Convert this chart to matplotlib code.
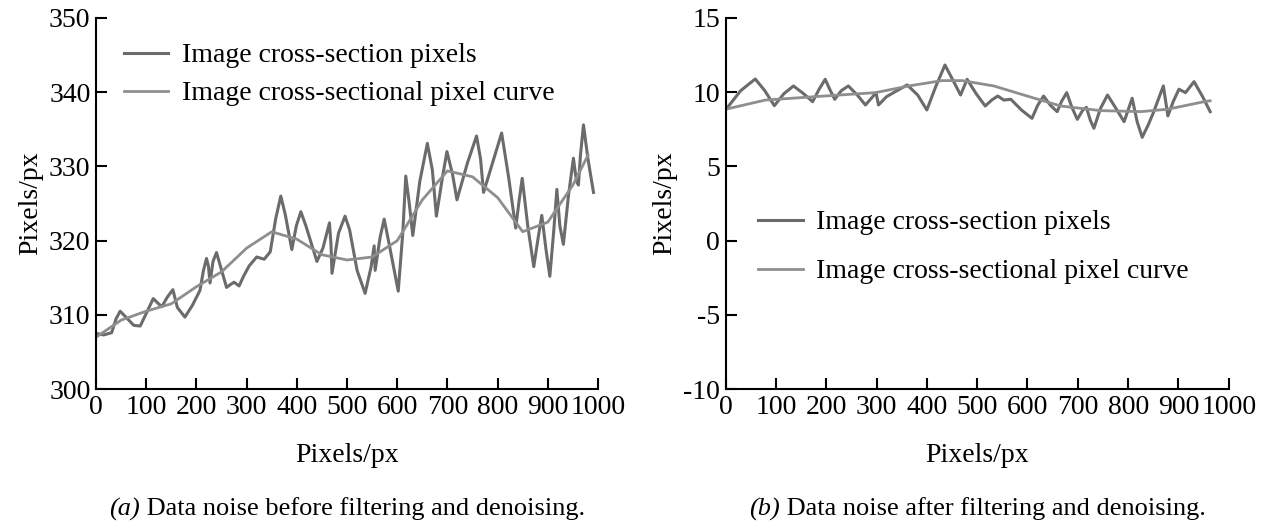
import matplotlib
matplotlib.use("Agg")
import matplotlib.pyplot as plt

plt.rcParams['font.family'] = ['Liberation Serif', 'DejaVu Serif']
plt.rcParams['font.size'] = 20
plt.rcParams['axes.unicode_minus'] = False

# (a) before filtering: noisy pixels and fitted curve
raw_a_x = [1, 15, 31, 40, 48, 58, 75, 88, 100, 114, 123, 131, 142, 153, 162, 177, 192,
           207, 214, 220, 224, 227, 233, 240, 248, 260, 268, 275, 285, 293, 305, 320,
           335, 347, 358, 368, 377, 390, 399, 408, 418, 440, 452, 465, 468, 470, 483,
           496, 505, 520, 536, 548, 554, 556, 566, 574, 584, 602, 611, 617, 624, 631,
           645, 660, 670, 678, 690, 699, 710, 719, 740, 758, 766, 772, 790, 808, 822,
           836, 843, 849, 860, 872, 881, 888, 896, 904, 912, 918, 924, 931, 941, 951,
           957, 961, 965, 971, 980, 991]
raw_a_y = [307.5, 307.3, 307.6, 309.5, 310.5, 309.8, 308.6, 308.5, 310.2, 312.2, 311.6,
           311.1, 312.4, 313.4, 311.0, 309.7, 311.3, 313.3, 316.0, 317.6, 316.5, 314.3,
           317.2, 318.4, 316.5, 313.7, 314.1, 314.4, 313.9, 315.1, 316.6, 317.8, 317.5,
           318.5, 323.0, 326.0, 323.5, 318.8, 322.0, 323.9, 322.0, 317.2, 319.0, 322.4,
           319.5, 315.6, 321.0, 323.3, 321.5, 316.0, 312.9, 316.5, 319.3, 316.0, 320.5,
           322.9, 319.5, 313.2, 321.0, 328.7, 325.0, 320.7, 328.0, 333.1, 329.5, 323.3,
           328.5, 332.0, 329.0, 325.5, 330.5, 334.1, 331.0, 326.5, 330.5, 334.5, 328.5,
           321.7, 325.5, 328.4, 322.0, 316.5, 320.5, 323.4, 319.0, 315.2, 321.5, 326.9,
           322.0, 319.5, 326.0, 331.1, 328.0, 327.5, 331.5, 335.6, 331.0, 326.5]
fit_a_x = [0, 50, 100, 150, 200, 250, 300, 350, 400, 450, 500, 550, 600, 650, 700,
           750, 800, 850, 900, 950, 980]
fit_a_y = [307.0, 309.3, 310.5, 311.5, 313.8, 315.8, 319.0, 321.2, 320.2, 318.1, 317.4,
           317.8, 320.0, 325.5, 329.4, 328.6, 325.8, 321.2, 322.5, 327.5, 331.5]

# (b) after filtering
raw_b_x = [1, 30, 59, 78, 97, 116, 135, 155, 173, 186, 198, 207, 217, 230, 244, 262,
           278, 290, 299, 304, 320, 337, 361, 382, 400, 418, 436, 452, 467, 480, 498,
           516, 530, 541, 553, 567, 588, 609, 620, 632, 646, 659, 668, 678, 688, 699,
           710, 717, 725, 732, 745, 759, 776, 792, 800, 808, 818, 828, 840, 851, 862,
           870, 879, 890, 901, 914, 931, 948, 963]
raw_b_y = [8.85, 10.1, 10.89, 10.1, 9.09, 9.9, 10.42, 9.9, 9.36, 10.2, 10.87, 10.2,
           9.52, 10.1, 10.42, 9.8, 9.14, 9.6, 9.97, 9.14, 9.7, 10.03, 10.49, 9.8, 8.80,
           10.4, 11.83, 10.8, 9.81, 10.87, 9.9, 9.07, 9.5, 9.74, 9.47, 9.52, 8.8, 8.24,
           9.1, 9.74, 9.1, 8.69, 9.4, 9.97, 9.0, 8.17, 8.8, 8.98, 8.1, 7.57, 8.9, 9.81,
           8.9, 8.01, 8.8, 9.59, 8.0, 6.96, 7.8, 8.69, 9.7, 10.42, 8.40, 9.4, 10.20,
           9.97, 10.71, 9.7, 8.69]
fit_b_x = [0, 79, 178, 298, 364, 430, 470, 533, 626, 666, 745, 825, 878, 951, 963]
fit_b_y = [8.85, 9.47, 9.70, 9.97, 10.42, 10.78, 10.78, 10.42, 9.47, 9.07, 8.76, 8.69,
           8.85, 9.36, 9.42]

x_ticks = list(range(0, 1001, 100))
raw_color = '#6b6b6b'
fit_color = '#8e8e8e'

fig = plt.figure(figsize=(12.74, 5.28), dpi=100)
ax1 = fig.add_axes([0.0754, 0.263, 0.394, 0.703])
ax2 = fig.add_axes([0.5695, 0.263, 0.395, 0.703])

panels = [
    (ax1, raw_a_x, raw_a_y, fit_a_x, fit_a_y, (300, 350), [300, 310, 320, 330, 340, 350],
     (0.005, 1.0), 0.45),
    (ax2, raw_b_x, raw_b_y, fit_b_x, fit_b_y, (-10, 15), [-10, -5, 0, 5, 10, 15],
     (0.015, 0.55), 0.85),
]

for ax, rx, ry, fx, fy, ylim, yticks, leg_pos, spacing in panels:
    ax.plot(rx, ry, color=raw_color, lw=2.2, solid_joinstyle='round',
            label='Image cross-section pixels')
    ax.plot(fx, fy, color=fit_color, lw=2.0, solid_joinstyle='round',
            label='Image cross-sectional pixel curve')
    ax.set_xlim(0, 1000)
    ax.set_ylim(*ylim)
    ax.set_xticks(x_ticks)
    ax.set_yticks(yticks)
    ax.spines['top'].set_visible(False)
    ax.spines['right'].set_visible(False)
    ax.spines['left'].set_linewidth(1.5)
    ax.spines['bottom'].set_linewidth(1.5)
    ax.tick_params(direction='in', length=8, width=1.5, pad=4)
    ax.set_xlabel('Pixels/px', labelpad=17)
    ax.set_ylabel('Pixels/px', labelpad=4)
    ax.legend(loc='upper left', bbox_to_anchor=leg_pos, frameon=False,
              handlelength=1.6, handletextpad=0.5, labelspacing=spacing)

# captions: italic panel letter followed by plain text, centred under each axes
captions = [(ax1, '(a)', ' Data noise before filtering and denoising.'),
            (ax2, '(b)', ' Data noise after filtering and denoising.')]
cap_y = 0.036
texts = []
for ax, tag, body in captions:
    t1 = fig.text(0, cap_y, tag, style='italic', va='center', ha='left', fontsize=19)
    t2 = fig.text(0, cap_y, body, va='center', ha='left', fontsize=19)
    texts.append((ax, t1, t2))

fig.canvas.draw()
r = fig.canvas.get_renderer()
W = fig.bbox.width
for ax, t1, t2 in texts:
    w1 = t1.get_window_extent(r).width
    w2 = t2.get_window_extent(r).width
    pos = ax.get_position()
    cx = (pos.x0 + pos.x1) / 2 * W
    start = cx - (w1 + w2) / 2
    t1.set_x(start / W)
    t2.set_x((start + w1) / W)

fig.savefig('out.png', dpi=100)
